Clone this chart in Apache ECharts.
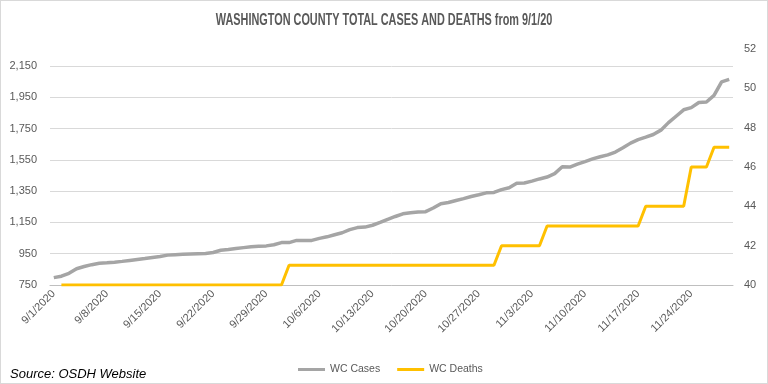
<!DOCTYPE html>
<html><head><meta charset="utf-8">
<script src="https://cdn.jsdelivr.net/npm/echarts@6/dist/echarts.min.js"></script>
<style>html,body{margin:0;padding:0;background:#fff}#c{width:766px;height:382px;border:1px solid #d9d9d9}</style>
</head><body><div id="c"></div>
<script>
const dates = ["9/1/2020","9/2/2020","9/3/2020","9/4/2020","9/5/2020","9/6/2020","9/7/2020","9/8/2020","9/9/2020","9/10/2020",
"9/11/2020","9/12/2020","9/13/2020","9/14/2020","9/15/2020","9/16/2020","9/17/2020","9/18/2020","9/19/2020","9/20/2020",
"9/21/2020","9/22/2020","9/23/2020","9/24/2020","9/25/2020","9/26/2020","9/27/2020","9/28/2020","9/29/2020","9/30/2020",
"10/1/2020","10/2/2020","10/3/2020","10/4/2020","10/5/2020","10/6/2020","10/7/2020","10/8/2020","10/9/2020","10/10/2020",
"10/11/2020","10/12/2020","10/13/2020","10/14/2020","10/15/2020","10/16/2020","10/17/2020","10/18/2020","10/19/2020","10/20/2020",
"10/21/2020","10/22/2020","10/23/2020","10/24/2020","10/25/2020","10/26/2020","10/27/2020","10/28/2020","10/29/2020","10/30/2020",
"10/31/2020","11/1/2020","11/2/2020","11/3/2020","11/4/2020","11/5/2020","11/6/2020","11/7/2020","11/8/2020","11/9/2020",
"11/10/2020","11/11/2020","11/12/2020","11/13/2020","11/14/2020","11/15/2020","11/16/2020","11/17/2020","11/18/2020","11/19/2020",
"11/20/2020","11/21/2020","11/22/2020","11/23/2020","11/24/2020","11/25/2020","11/26/2020","11/27/2020","11/28/2020","11/29/2020"];

const wcCases = [797,806,825,854,868,880,889,892,896,901,
907,913,919,926,932,941,944,946,948,950,
952,958,972,977,983,989,995,998,1000,1007,
1021,1021,1035,1035,1035,1048,1058,1071,1084,1104,
1117,1120,1132,1150,1170,1188,1205,1212,1216,1219,
1242,1270,1277,1290,1302,1316,1327,1339,1342,1360,
1372,1400,1402,1414,1428,1440,1462,1506,1504,1523,
1539,1556,1570,1582,1600,1627,1657,1679,1695,1712,
1740,1788,1829,1870,1884,1917,1920,1962,2048,2064];

const wcDeaths = [null,40,40,40,40,40,40,40,40,40,
40,40,40,40,40,40,40,40,40,40,
40,40,40,40,40,40,40,40,40,40,
40,41,41,41,41,41,41,41,41,41,
41,41,41,41,41,41,41,41,41,41,
41,41,41,41,41,41,41,41,41,42,
42,42,42,42,42,43,43,43,43,43,
43,43,43,43,43,43,43,43,44,44,
44,44,44,44,46,46,46,47,47,47];

const casesTicks = {min: 750, max: 2150, interval: 200};
const deathsTicks = {min: 40, max: 52, interval: 2};

const txt = '#595959';
const font = 'Liberation Sans';
const chart = echarts.init(document.getElementById('c'), null, {renderer: 'canvas'});
const gridL = 49, gridR = 34;
chart.setOption({
  animation: false,
  graphic: [
    {type: 'text', x: 383, y: 20, scaleX: 0.68,
     style: {text: 'WASHINGTON COUNTY TOTAL CASES AND DEATHS from 9/1/20', fill: txt,
       font: 'bold 16px Liberation Sans', align: 'center', verticalAlign: 'middle'}},
    {type: 'text', left: 9, top: 367,
     style: {text: 'Source: OSDH Website', fill: '#000', font: 'italic 13px Liberation Sans'}}
  ],
  legend: {
    data: ['WC Cases', 'WC Deaths'], left: 292, top: 358,
    icon: 'rect', itemWidth: 27, itemHeight: 3, itemGap: 17,
    textStyle: {color: txt, fontFamily: font, fontSize: 10.5}
  },
  grid: [
    {left: gridL, right: gridR, top: 65, bottom: 98},
    {left: gridL, right: gridR, top: 48, bottom: 98}
  ],
  xAxis: [
    {type: 'category', gridIndex: 0, data: dates, boundaryGap: true,
     axisLine: {lineStyle: {color: '#bfbfbf'}},
     axisTick: {interval: 6, length: 5, lineStyle: {color: '#bfbfbf'}},
     axisLabel: {interval: 6, rotate: 45, color: txt, fontFamily: font, fontSize: 11, margin: 7},
     splitLine: {show: false}},
    {type: 'category', gridIndex: 1, data: dates, boundaryGap: true, show: false}
  ],
  yAxis: [
    {type: 'value', gridIndex: 0, min: casesTicks.min, max: casesTicks.max, interval: casesTicks.interval,
     axisLine: {show: false}, axisTick: {show: false},
     axisLabel: {color: txt, fontFamily: font, fontSize: 11, margin: 13,
       formatter: v => v.toLocaleString('en-US')},
     splitLine: {lineStyle: {color: '#d9d9d9', width: 1}}},
    {type: 'value', gridIndex: 1, position: 'right', min: deathsTicks.min, max: deathsTicks.max, interval: deathsTicks.interval,
     axisLine: {show: false}, axisTick: {show: false},
     axisLabel: {color: txt, fontFamily: font, fontSize: 11, margin: 11},
     splitLine: {show: false}}
  ],
  series: [
    {name: 'WC Cases', type: 'line', xAxisIndex: 0, yAxisIndex: 0, data: wcCases,
     symbol: 'none', lineStyle: {color: '#a5a5a5', width: 3.5}, itemStyle: {color: '#a5a5a5'}},
    {name: 'WC Deaths', type: 'line', xAxisIndex: 1, yAxisIndex: 1, data: wcDeaths,
     symbol: 'none', lineStyle: {color: '#ffc000', width: 3}, itemStyle: {color: '#ffc000'}}
  ]
});
</script></body></html>
